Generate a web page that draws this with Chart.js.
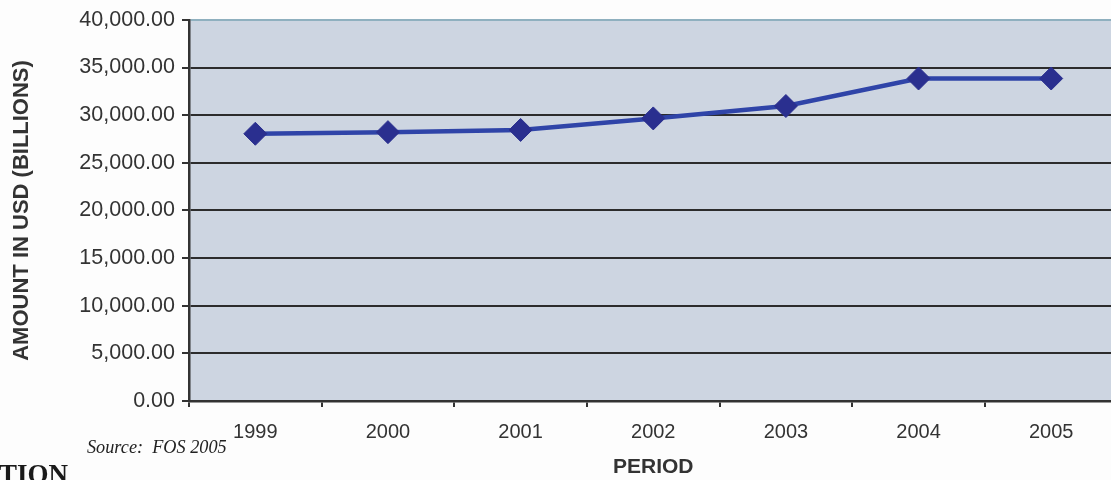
<!DOCTYPE html>
<html>
<head>
<meta charset="utf-8">
<script src="https://cdn.jsdelivr.net/npm/chart.js@4/dist/chart.umd.min.js"></script>
<style>
  html, body { margin: 0; padding: 0; background: #fdfdfd; overflow: hidden; }
  #wrap { position: relative; width: 1111px; height: 480px; overflow: hidden; }
  #chart { position: absolute; left: 0; top: 0; }
  .note { position: absolute; white-space: nowrap; line-height: 1; color: #222; }
  #source { left: 87px; top: 436px; font: italic 19px "Liberation Serif", serif; transform: scaleX(0.96); transform-origin: left top; }
  #cut { left: -1px; top: 459px; font: bold 27px "Liberation Serif", serif; color: #1a1a1a; }
</style>
</head>
<body>
<div id="wrap">
  <canvas id="chart" width="1130" height="480"></canvas>
  <div class="note" id="source">Source:&nbsp; FOS 2005</div>
  <div class="note" id="cut">TION</div>
</div>
<script>
const years = ['1999', '2000', '2001', '2002', '2003', '2004', '2005'];
const amounts = [28050, 28220, 28450, 29660, 30960, 33850, 33850];
const yTicks = { min: 0, max: 40000, step: 5000 };
const yTitle = 'AMOUNT IN USD (BILLIONS)';
const xTitle = 'PERIOD';

// plot background behind the grid
const plotBackground = {
  id: 'plotBackground',
  beforeDraw(chart) {
    const { ctx, chartArea } = chart;
    ctx.save();
    ctx.fillStyle = '#cdd5e1';
    ctx.fillRect(chartArea.left, chartArea.top, chartArea.right - chartArea.left, chartArea.bottom - chartArea.top);
    ctx.restore();
  }
};

new Chart(document.getElementById('chart'), {
  type: 'line',
  data: {
    labels: years,
    datasets: [{
      data: amounts,
      borderColor: '#2f44a8',
      borderWidth: 4.5,
      tension: 0,
      pointStyle: 'rectRot',
      pointRadius: 11.5,
      pointBackgroundColor: '#2a2f8f',
      pointBorderColor: '#2a2f8f',
      pointBorderWidth: 1
    }]
  },
  options: {
    responsive: false,
    animation: false,
    layout: { padding: { top: 18, left: 0, right: 0, bottom: 0 } },
    plugins: {
      legend: { display: false },
      tooltip: { enabled: false }
    },
    scales: {
      x: {
        offset: true,
        grid: {
          drawOnChartArea: false,
          offset: true,
          tickLength: 6,
          color: '#333',
          lineWidth: 2
        },
        border: { color: '#333', width: 2.5 },
        ticks: {
          padding: 13,
          color: '#333',
          font: { family: '"Liberation Sans", Arial, sans-serif', size: 20 }
        },
        title: {
          display: true,
          text: xTitle,
          color: '#333',
          padding: { top: 0, bottom: 0 },
          font: { family: '"Liberation Sans", Arial, sans-serif', size: 21, weight: 'bold', lineHeight: 1.2 }
        },
        afterFit(scale) { scale.height = 79; }
      },
      y: {
        min: yTicks.min,
        max: yTicks.max,
        grid: {
          color: ctx => (ctx.tick && ctx.tick.value === yTicks.max ? '#8fb0bf' : '#2c2c2c'),
          tickColor: '#333',
          lineWidth: 2,
          tickLength: 7
        },
        border: { color: '#333', width: 2.5 },
        ticks: {
          stepSize: yTicks.step,
          padding: 7,
          color: '#333',
          font: { family: '"Liberation Sans", Arial, sans-serif', size: 21.5 },
          callback: v => v.toLocaleString('en-US', { minimumFractionDigits: 2, maximumFractionDigits: 2 })
        },
        title: {
          display: true,
          text: yTitle,
          color: '#333',
          padding: { top: 9, bottom: 0 },
          font: { family: '"Liberation Sans", Arial, sans-serif', size: 22, weight: 'bold', lineHeight: 1.2 }
        },
        afterFit(scale) { scale.width = 189; }
      }
    }
  },
  plugins: [plotBackground]
});
</script>
</body>
</html>
